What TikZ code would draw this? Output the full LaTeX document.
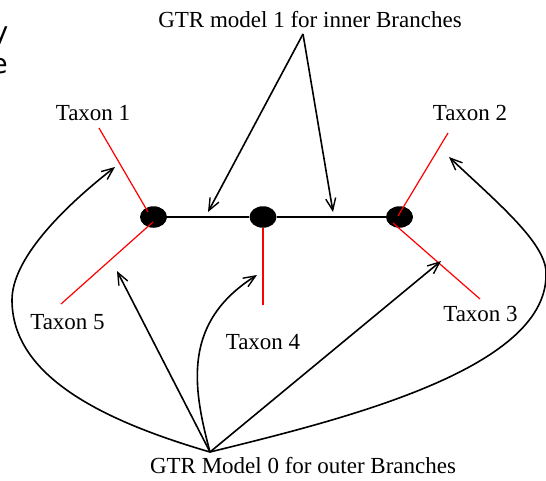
\documentclass[tikz,border=0pt]{standalone}
\usepackage{fontspec}
\setmainfont{Liberation Serif}
\newfontfamily\slidefont{DejaVu Sans}
\usetikzlibrary{arrows.meta,shapes.geometric}
\begin{document}
\begin{tikzpicture}[x=1pt,y=-1pt,
  lbl/.style={font=\fontsize{23}{27}\selectfont, inner sep=0pt},
  frag/.style={font=\slidefont\fontsize{27}{32}\selectfont, inner sep=0pt, anchor=base east},
  dot/.style={ellipse, fill=black, minimum width=27pt, minimum height=21.5pt, inner sep=0pt},
  arr/.style={line width=1.6pt, -{Straight Barb[length=12pt,width=10pt,line width=1.4pt]}},
  branch/.style={red, line width=1.2pt},
  innerline/.style={line width=1.3pt}]
\useasboundingbox (0,0) rectangle (546,480);
% cropped slide text fragments
\node[frag] (fy) at (8.5,41) {y};
\node[frag] (fe) at (8,73) {e};
% labels
\node[lbl] (top) at (310,19.5) {GTR model 1 for inner Branches};
\node[lbl] (bot) at (303,466) {GTR Model 0 for outer Branches};
\node[lbl] (t1) at (93,113) {Taxon 1};
\node[lbl] (t2) at (470,113) {Taxon 2};
\node[lbl] (t3) at (480.5,313.5) {Taxon 3};
\node[lbl] (t4) at (263,342) {Taxon 4};
\node[lbl] (t5) at (67.5,322) {Taxon 5};
% tree
\node[dot] (n1) at (153.5,217) {};
\node[dot] (n2) at (263,217) {};
\node[dot] (n3) at (399.5,217) {};
\draw[innerline] (n1) -- (n2) -- (n3);
% leaf ends
\coordinate (e1) at (99,128);
\coordinate (e5) at (61,304);
\coordinate (e4) at (263,305);
\coordinate (e2) at (448,133);
\coordinate (e3) at (480,299);
\draw[branch] (e1) -- (148,212);
\draw[branch] (153,222) -- (e5);
\draw[branch] (n2.south) -- (e4);
\draw[branch] (e2) -- (398,216);
\draw[branch] (393,223) -- (e3);
% apexes and tips
\coordinate (a1) at (303,34);
\coordinate (a0) at (210,452);
\coordinate (p1) at (208,212);
\coordinate (p2) at (333,212);
\coordinate (q1) at (115,167);
\coordinate (q2) at (117,271);
\coordinate (q3) at (257,275);
\coordinate (q4) at (441,261);
\coordinate (q5) at (449,157);
\coordinate (wl) at (12,300);
\coordinate (wr) at (546,275);
\draw[arr] (a1) -- (p1);
\draw[arr] (a1) -- (p2);
\draw[arr] (a0) .. controls (100,420) and (12,375) .. (wl)
               .. controls (12,260) and (60,210) .. (q1);
\draw[arr] (a0) -- (q2);
\draw[arr] (a0) .. controls (192,385) and (183,322) .. (q3);
\draw[arr] (a0) -- (q4);
\draw[arr] (a0) .. controls (340,420) and (546,370) .. (wr)
               .. controls (548,245) and (500,205) .. (q5);
\end{tikzpicture}
\end{document}
